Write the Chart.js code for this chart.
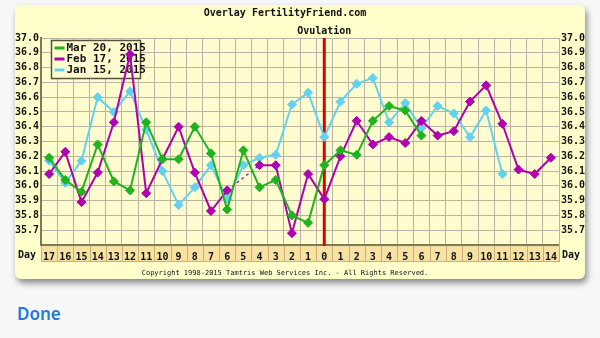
<!DOCTYPE html>
<html>
<head>
<meta charset="utf-8">
<script src="https://cdn.jsdelivr.net/npm/chart.js@4/dist/chart.umd.min.js"></script>
<style>
  html, body { margin: 0; padding: 0; background: #f7f7f7; width: 600px; height: 338px; overflow: hidden; }
  #card {
    position: absolute; left: 15px; top: 5px; width: 570px; height: 274px;
    background: #ffffcc; border-radius: 6px;
    box-shadow: 2px 4px 6px rgba(0,0,0,0.45);
  }
  #card canvas { display: block; }
  #done {
    position: absolute; left: 17px; top: 302px;
    font-family: "Noto Sans", sans-serif; font-weight: 600; font-size: 17px; color: #1b7be0;
  }
</style>
</head>
<body>
<div id="card"><canvas id="fertChart" width="570" height="274"></canvas></div>
<div id="done">Done</div>
<script>
// cycle days counted back to ovulation (0), then forward
const dayLabels = ['17','16','15','14','13','12','11','10','9','8','7','6','5','4','3','2','1',
                   '0','1','2','3','4','5','6','7','8','9','10','11','12','13','14'];
const ovulationIndex = 17;

const mar20 = [36.19,36.04,35.96,36.28,36.03,35.97,36.43,36.18,36.18,36.40,36.22,35.84,
               36.24,35.99,36.04,35.80,35.75,36.14,36.24,36.21,36.44,36.54,36.51,36.34];
const feb17 = [36.08,36.23,35.89,36.09,36.43,36.89,35.95,36.18,36.40,36.09,35.83,35.97,
               null,36.14,36.14,35.68,36.08,35.91,36.20,36.44,36.28,36.33,36.29,36.44,
               36.34,36.37,36.57,36.68,36.42,36.11,36.08,36.19];
const jan15 = [36.17,36.02,36.17,36.60,36.50,36.64,36.38,36.10,35.87,35.99,36.14,35.91,
               36.14,36.19,36.21,36.55,36.63,36.33,36.57,36.69,36.73,36.43,36.56,36.39,
               36.54,36.49,36.33,36.51,36.08];

const seriesNames = ['Mar 20, 2015', 'Feb 17, 2015', 'Jan 15, 2015'];
const seriesColors = ['#1eb41e', '#b000b0', '#62d2f0'];

const MONO = '"DejaVu Sans Mono", monospace';
const gridColor = '#b9b5a2';
const axisColor = '#7d7b52';

const gapDash = (ctx) => (ctx.p0.skip || ctx.p1.skip) ? [3, 3] : undefined;
const gapWidth = (ctx) => (ctx.p0.skip || ctx.p1.skip) ? 1.2 : undefined;

function makeSet(label, data, color) {
  return {
    label: label,
    data: data,
    borderColor: color,
    backgroundColor: color,
    borderWidth: 2,
    pointStyle: 'rectRot',
    pointRadius: 4.5,
    pointBorderWidth: 1,
    pointBackgroundColor: color,
    pointBorderColor: color,
    tension: 0,
    spanGaps: true,
    segment: { borderDash: gapDash, borderWidth: gapWidth }
  };
}

const chartDecor = {
  id: 'chartDecor',
  beforeDraw(chart) {
    const { ctx, chartArea: a } = chart;
    ctx.save();
    ctx.fillStyle = '#fffdcf';
    ctx.fillRect(a.left, a.top, a.right - a.left, a.bottom - a.top);
    // day band under the plot
    const cw = (a.right - a.left) / dayLabels.length;
    ctx.fillStyle = '#f8e2a2';
    ctx.fillRect(a.left, a.bottom, a.right - a.left, 17);
    ctx.strokeStyle = '#c9b077';
    ctx.lineWidth = 1;
    for (let i = 0; i <= dayLabels.length; i++) {
      const px = Math.round(a.left + i * cw) + 0.5;
      ctx.beginPath(); ctx.moveTo(px, a.bottom); ctx.lineTo(px, a.bottom + 17); ctx.stroke();
    }
    ctx.beginPath(); ctx.moveTo(a.left, a.bottom + 16.5); ctx.lineTo(a.right, a.bottom + 16.5); ctx.stroke();
    ctx.restore();
  },
  beforeDatasetsDraw(chart) {
    const { ctx, chartArea: a, scales: { x } } = chart;
    ctx.save();
    // legend box sits under the lines
    const bx = 36.5, by = 35.5, bw = 89, bh = 38;
    ctx.fillStyle = '#fffdcf';
    ctx.fillRect(bx, by, bw, bh);
    ctx.strokeStyle = '#55533a';
    ctx.lineWidth = 1.5;
    ctx.strokeRect(bx, by, bw, bh);
    ctx.font = 'bold 11px ' + MONO;
    ctx.textAlign = 'left';
    ctx.textBaseline = 'middle';
    chart.data.datasets.forEach((ds, i) => {
      const ly = by + 7.5 + i * 11;
      ctx.strokeStyle = ds.borderColor;
      ctx.lineWidth = 3;
      ctx.beginPath(); ctx.moveTo(bx + 3, ly); ctx.lineTo(bx + 13, ly); ctx.stroke();
      ctx.fillStyle = '#111';
      ctx.fillText(ds.label, bx + 15, ly + 0.5);
    });

    // ovulation marker
    const px = x.getPixelForValue(ovulationIndex);
    ctx.strokeStyle = '#e00000';
    ctx.lineWidth = 3;
    ctx.beginPath(); ctx.moveTo(px, a.top); ctx.lineTo(px, a.bottom + 1); ctx.stroke();
    ctx.restore();
  },
  afterDraw(chart) {
    const { ctx, chartArea: a, scales: { x } } = chart;
    ctx.save();
    ctx.fillStyle = '#111';
    ctx.textBaseline = 'middle';
    ctx.font = 'bold 10px ' + MONO;
    ctx.textAlign = 'center';
    ctx.fillText('Overlay FertilityFriend.com', chart.width / 2 - 15, 8);
    ctx.fillText('Ovulation', x.getPixelForValue(ovulationIndex), 26);
    ctx.textAlign = 'left';
    ctx.fillText('Day', 3, a.bottom + 10);
    ctx.fillText('Day', a.right + 3, a.bottom + 10);
    ctx.font = '7px ' + MONO;
    ctx.textAlign = 'center';
    ctx.fillText('Copyright 1998-2015 Tamtris Web Services Inc. - All Rights Reserved.', chart.width / 2 - 15, 268);
    ctx.restore();
  }
};

const yTicks = {
  stepSize: 0.1,
  maxTicksLimit: 20,
  autoSkip: false,
  color: '#111',
  font: { family: MONO, size: 10, weight: 'bold' },
  padding: 2,
  callback: (v) => (v < 35.65 ? '' : Number(v).toFixed(1))
};

new Chart(document.getElementById('fertChart').getContext('2d'), {
  type: 'line',
  data: {
    labels: dayLabels,
    datasets: [
      makeSet(seriesNames[0], mar20, seriesColors[0]),
      makeSet(seriesNames[1], feb17, seriesColors[1]),
      makeSet(seriesNames[2], jan15, seriesColors[2])
    ]
  },
  options: {
    responsive: false,
    animation: false,
    layout: { padding: { left: 0, right: 0, top: 33, bottom: 12 } },
    plugins: { legend: { display: false }, tooltip: { enabled: false }, title: { display: false } },
    scales: {
      x: {
        type: 'category',
        offset: true,
        grid: { color: gridColor, offset: true, drawTicks: false },
        border: { color: axisColor, width: 2 },
        ticks: { color: '#111', font: { family: MONO, size: 10, weight: 'bold' }, padding: 6,
                 autoSkip: false, maxRotation: 0 },
        afterFit(scale) { scale.height = 22; }
      },
      y: {
        position: 'left',
        min: 35.6, max: 37.0,
        grid: { color: gridColor, drawTicks: false },
        border: { color: axisColor, width: 2 },
        ticks: yTicks,
        afterFit(scale) { scale.width = 26; }
      },
      y2: {
        position: 'right',
        min: 35.6, max: 37.0,
        grid: { drawOnChartArea: false, drawTicks: false },
        border: { color: gridColor, width: 1 },
        ticks: yTicks,
        afterFit(scale) { scale.width = 26; }
      }
    }
  },
  plugins: [chartDecor]
});
</script>
</body>
</html>
